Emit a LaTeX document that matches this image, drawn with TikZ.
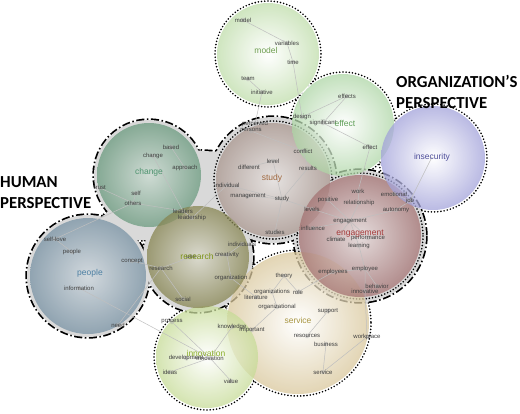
\documentclass[tikz,border=0pt]{standalone}
\usepackage{fontspec}
\setmainfont{Liberation Sans}
\newfontfamily\headfont{Carlito}
\definecolor{modelC}{HTML}{BFDDAA}
\definecolor{modelT}{HTML}{6E9E50}
\definecolor{effectC}{HTML}{AED6A6}
\definecolor{effectT}{HTML}{5E9E56}
\definecolor{insecC}{HTML}{A2A2DA}
\definecolor{insecT}{HTML}{4E4E9A}
\definecolor{studyC}{HTML}{AA978F}
\definecolor{studyT}{HTML}{A0683E}
\definecolor{engC}{HTML}{A47272}
\definecolor{engT}{HTML}{A53A3A}
\definecolor{changeC}{HTML}{6A9A7E}
\definecolor{changeT}{HTML}{4F9470}
\definecolor{peopleC}{HTML}{7892A4}
\definecolor{peopleT}{HTML}{4D80A3}
\definecolor{researchC}{HTML}{868450}
\definecolor{researchT}{HTML}{7E9418}
\definecolor{serviceC}{HTML}{D9C79B}
\definecolor{serviceT}{HTML}{A99642}
\definecolor{innovC}{HTML}{C6DB96}
\definecolor{innovT}{HTML}{8BAE2B}
\pgfdeclarelayer{back}
\pgfdeclarelayer{mid}
\pgfsetlayers{back,mid,main}

\begin{document}
\begin{tikzpicture}[x=1pt,y=-1pt]
\tikzstyle{every node}+=[inner sep=0pt]
\tikzstyle{bubble}=[opacity=0.74]
\tikzstyle{hullfill}=[fill=gray!30]
\tikzstyle{hullline}=[black, line width=3.4pt, dash pattern=on 8pt off 2.5pt on 1.5pt off 2.5pt]
\tikzstyle{orgline}=[black, line width=1.8pt, dash pattern=on 0pt off 3.2pt, line cap=round]
\tikzstyle{word}=[circle, fill=gray!60, fill opacity=0.5, minimum size=4.5pt]
\tikzstyle{wordtext}=[font=\fontsize{6}{6}\selectfont, text=black!75, text opacity=1, fill opacity=1]
\tikzstyle{big}=[font=\fontsize{8.5}{8.5}\selectfont]
\tikzstyle{head}=[font=\headfont\bfseries\fontsize{16.8}{20}\selectfont, anchor=base west]
\tikzstyle{link}=[draw=gray!50, line width=0.5pt]
\useasboundingbox (0,0) rectangle (520,413);
\coordinate (cmodel) at (268,54);
\coordinate (ceffect) at (343,125);
\coordinate (cinsec) at (433,158);
\coordinate (cstudy) at (273,180);
\coordinate (ceng) at (360,236);
\coordinate (cchange) at (149,175);
\coordinate (cpeople) at (88,276);
\coordinate (cresearch) at (198,257);
\coordinate (cservice) at (298,323);
\coordinate (cinnov) at (207,357);
\begin{pgfonlayer}{back}
\draw [orgline] (cmodel) circle (53) (ceffect) circle (53) (cinsec) circle (54) (cservice) circle (73) (cinnov) circle (53);
\fill [white] (cmodel) circle (51.5);
\fill [white] (ceffect) circle (51.5);
\fill [white] (cinsec) circle (52.5);
\fill [white] (cservice) circle (71.5);
\fill [white] (cinnov) circle (51.5);
\draw [hullline] (cchange) circle (55) (cpeople) circle (61) (cresearch) circle (55) (cstudy) circle (63) (ceng) circle (66);
\draw [hullline] (190,150) -- (220,152) -- (245,205) -- (205,228) -- (165,205) -- cycle;
\draw [hullline] (118,200) -- (170,215) -- (175,240) -- (130,240) -- (98,222) -- cycle;
\fill [hullfill] (cchange) circle (55);
\fill [hullfill] (cpeople) circle (61);
\fill [hullfill] (cresearch) circle (55);
\fill [hullfill] (cstudy) circle (63);
\fill [hullfill] (ceng) circle (66);
\fill [hullfill] (190,150) -- (220,152) -- (245,205) -- (205,228) -- (165,205) -- cycle;
\fill [hullfill] (118,200) -- (170,215) -- (175,240) -- (130,240) -- (98,222) -- cycle;
\draw [orgline] (cstudy) circle (59) (ceng) circle (63);
\fill [hullfill] (cstudy) circle (57.5);
\fill [hullfill] (ceng) circle (61.5);
\shade [bubble, inner color=white, outer color=serviceC] (cservice) circle (71);
\shade [bubble, inner color=white, outer color=innovC] (cinnov) circle (51);
\shade [bubble, inner color=peopleC!35!white, outer color=peopleC] (cpeople) circle (58);
\shade [bubble, inner color=changeC!35!white, outer color=changeC] (cchange) circle (52);
\shade [bubble, inner color=researchC!30!white, outer color=researchC] (cresearch) circle (51);
\shade [bubble, inner color=studyC!25!white, outer color=studyC] (cstudy) circle (57);
\shade [bubble, inner color=engC!25!white, outer color=engC] (ceng) circle (61);
\shade [bubble, inner color=white, outer color=effectC] (ceffect) circle (51);
\shade [bubble, inner color=white, outer color=insecC] (cinsec) circle (52);
\shade [bubble, inner color=white, outer color=modelC] (cmodel) circle (51);
\end{pgfonlayer}
\node [word, label={[wordtext]center:model}] (model) at (243,20) {};
\node [word, label={[wordtext]center:variables}] (variables) at (287,43) {};
\node [word, label={[wordtext]center:time}] (time) at (293,62) {};
\node [word, label={[wordtext]center:team}] (team) at (248,79) {};
\node [word, label={[wordtext]center:initiative}] (initiative) at (262,92) {};
\node [word, label={[wordtext]center:effects}] (effects) at (347,96) {};
\node [word, label={[wordtext]center:design}] (design) at (302,117) {};
\node [word, label={[wordtext]center:significant}] (significant) at (323,123) {};
\node [word, label={[wordtext]center:effect}] (effect) at (370,147) {};
\node [word, label={[wordtext]center:perceived}] (perceived) at (255,124) {};
\node [word, label={[wordtext]center:persons}] (persons) at (251,131) {};
\node [word, label={[wordtext]center:conflict}] (conflict) at (303,151) {};
\node [word, label={[wordtext]center:level}] (level) at (273,161) {};
\node [word, label={[wordtext]center:different}] (different) at (249,167) {};
\node [word, label={[wordtext]center:results}] (results) at (308,168) {};
\node [word, label={[wordtext]center:individual}] (individual) at (227,185) {};
\node [word, label={[wordtext]center:management}] (management) at (248,196) {};
\node [word, label={[wordtext]center:study}] (study) at (282,199) {};
\node [word, label={[wordtext]center:levels}] (levels) at (312,209) {};
\node [word, label={[wordtext]center:studies}] (studies) at (275,232) {};
\node [word, label={[wordtext]center:work}] (work) at (358,191) {};
\node [word, label={[wordtext]center:emotional}] (emotional) at (394,194) {};
\node [word, label={[wordtext]center:job}] (job) at (410,201) {};
\node [word, label={[wordtext]center:positive}] (positive) at (328,200) {};
\node [word, label={[wordtext]center:relationship}] (relationship) at (359,203) {};
\node [word, label={[wordtext]center:autonomy}] (autonomy) at (396,210) {};
\node [word, label={[wordtext]center:engagement}] (engagement) at (350,221) {};
\node [word, label={[wordtext]center:influence}] (influence) at (313,228) {};
\node [word, label={[wordtext]center:climate}] (climate) at (336,239) {};
\node [word, label={[wordtext]center:performance}] (performance) at (368,238) {};
\node [word, label={[wordtext]center:learning}] (learning) at (359,246) {};
\node [word, label={[wordtext]center:employees}] (employees) at (333,272) {};
\node [word, label={[wordtext]center:employee}] (employee) at (365,269) {};
\node [word, label={[wordtext]center:behavior}] (behavior) at (377,286) {};
\node [word, label={[wordtext]center:innovative}] (innovative) at (365,291) {};
\node [word, label={[wordtext]center:based}] (based) at (171,147) {};
\node [word, label={[wordtext]center:change}] (change) at (153,156) {};
\node [word, label={[wordtext]center:approach}] (approach) at (185,168) {};
\node [word, label={[wordtext]center:trust}] (trust) at (100,188) {};
\node [word, label={[wordtext]center:self}] (self) at (136,193) {};
\node [word, label={[wordtext]center:others}] (others) at (133,203) {};
\node [word, label={[wordtext]center:leaders}] (leaders) at (183,211) {};
\node [word, label={[wordtext]center:leadership}] (leadership) at (192,218) {};
\node [word, label={[wordtext]center:individuals}] (individuals) at (242,244) {};
\node [word, label={[wordtext]center:creativity}] (creativity) at (227,255) {};
\node [word, label={[wordtext]center:use}] (use) at (191,257) {};
\node [word, label={[wordtext]center:research}] (research) at (161,268) {};
\node [word, label={[wordtext]center:concept}] (concept) at (132,261) {};
\node [word, label={[wordtext]center:organization}] (organization) at (231,278) {};
\node [word, label={[wordtext]center:social}] (social) at (183,299) {};
\node [word, label={[wordtext]center:self-love}] (selflove) at (55,239) {};
\node [word, label={[wordtext]center:people}] (people) at (72,252) {};
\node [word, label={[wordtext]center:information}] (information) at (79,288) {};
\node [word, label={[wordtext]center:need}] (need) at (118,325) {};
\node [word, label={[wordtext]center:process}] (process) at (172,322) {};
\node [word, label={[wordtext]center:development}] (development) at (186,358) {};
\node [word, label={[wordtext]center:innovation}] (innovation) at (210,358) {};
\node [word, label={[wordtext]center:ideas}] (ideas) at (170,372) {};
\node [word, label={[wordtext]center:value}] (value) at (231,381) {};
\node [word, label={[wordtext]center:knowledge}] (knowledge) at (232,327) {};
\node [word, label={[wordtext]center:important}] (important) at (252,330) {};
\node [word, label={[wordtext]center:theory}] (theory) at (284,276) {};
\node [word, label={[wordtext]center:organizations}] (organizations) at (272,292) {};
\node [word, label={[wordtext]center:role}] (role) at (298,292) {};
\node [word, label={[wordtext]center:literature}] (literature) at (256,297) {};
\node [word, label={[wordtext]center:organizational}] (organizational) at (277,307) {};
\node [word, label={[wordtext]center:support}] (support) at (328,311) {};
\node [word, label={[wordtext]center:resources}] (resources) at (307,336) {};
\node [word, label={[wordtext]center:business}] (business) at (326,344) {};
\node [word, label={[wordtext]center:workplace}] (workplace) at (367,337) {};
\node [word, label={[wordtext]center:service}] (service) at (323,372) {};
\node [big, text=modelT] (Lmodel) at (266,50) {model};
\node [big, text=effectT] (Leffect) at (345,123) {effect};
\node [big, text=insecT] (Linsecurity) at (432,157) {insecurity};
\node [big, text=studyT] (Lstudy) at (272,178) {study};
\node [big, text=engT] (Lengagement) at (360,234) {engagement};
\node [big, text=changeT] (Lchange) at (149,172) {change};
\node [big, text=peopleT] (Lpeople) at (90,273) {people};
\node [big, text=researchT] (Lresearch) at (197,256) {research};
\node [big, text=serviceT] (Lservice) at (298,320) {service};
\node [big, text=innovT] (Linnovation) at (206,353) {innovation};
\begin{pgfonlayer}{mid}
\draw [link] (model) -- (variables) -- (time) -- (design);
\draw [link] (team) -- (initiative) -- (perceived);
\draw [link] (design) -- (effects) -- (significant) -- (effect) -- (work);
\draw [link] (Linsecurity.center) -- (job);
\draw [link] (persons) -- (conflict) -- (results) -- (study);
\draw [link] (different) -- (level) -- (study);
\draw [link] (individual) -- (study) -- (management);
\draw [link] (studies) -- (study) -- (levels) -- (engagement);
\draw [link] (individual) -- (leadership);
\draw [link] (work) -- (relationship) -- (engagement) -- (positive);
\draw [link] (emotional) -- (job) -- (autonomy) -- (engagement);
\draw [link] (influence) -- (engagement) -- (climate);
\draw [link] (performance) -- (engagement) -- (learning) -- (employee) -- (behavior);
\draw [link] (employee) -- (employees) -- (role) -- (theory) -- (organizations);
\draw [link] (employee) -- (innovative) -- (workplace) -- (service) -- (business);
\draw [link] (based) -- (approach);
\draw [link] (change) -- (leaders) -- (leadership);
\draw [link] (trust) -- (others) -- (leaders);
\draw [link] (self) -- (others) -- (selflove) -- (people);
\draw [link] (concept) -- (research) -- (use) -- (creativity) -- (individuals);
\draw [link] (creativity) -- (organization) -- (literature);
\draw [link] (research) -- (social);
\draw [link] (need) -- (research);
\draw [link] (information) -- (innovation);
\draw [link] (process) -- (innovation) -- (development);
\draw [link] (ideas) -- (innovation) -- (value);
\draw [link] (knowledge) -- (innovation);
\draw [link] (organizations) -- (organizational) -- (important);
\draw [link] (support) -- (resources);
\end{pgfonlayer}
\node [head] (human1) at (0,187) {HUMAN};
\node [head] (human2) at (0,208) {PERSPECTIVE};
\node [head] (org1) at (396,87) {ORGANIZATION’S};
\node [head] (org2) at (396,108) {PERSPECTIVE};
\end{tikzpicture}
\end{document}
